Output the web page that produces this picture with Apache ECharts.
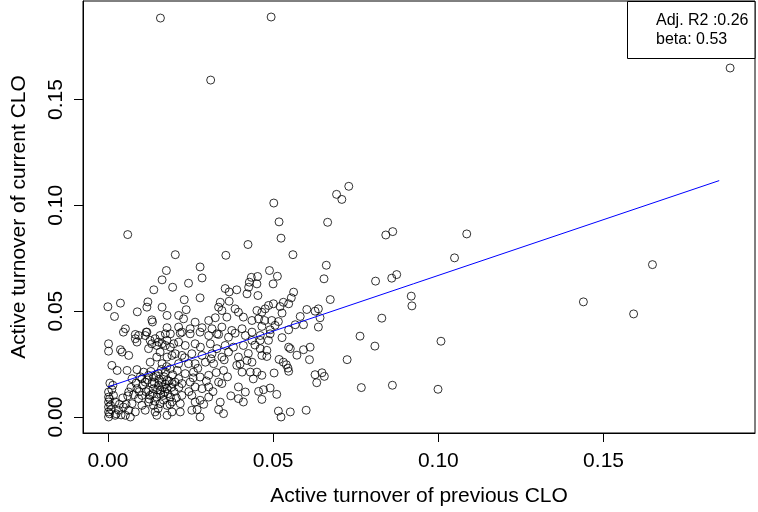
<!DOCTYPE html>
<html>
<head>
<meta charset="utf-8">
<script src="https://cdn.jsdelivr.net/npm/echarts@6/dist/echarts.min.js"></script>
<style>
html,body{margin:0;padding:0;background:#fff;}
#chart{width:758px;height:512px;}
</style>
</head>
<body>
<div id="chart"></div>
<script>
// Active turnover of previous CLO (x) vs current CLO (y)
const prevCLO = [
0.0159,0.0494,0.0311,0.1883,0.1648,0.1439,0.1591,0.0729,0.0692,0.0708,0.0841,0.0862,0.1086,0.1049,0.0810,0.0859,0.0874,0.0918,0.0920,0.0829,0.0763,0.0808,0.1008,0.0724,0.0767,0.0861,0.0999,0.0673,0.0665,0.0060,0.0502,0.0518,0.0524,0.0424,
0.0204,0.0177,0.0164,0.0139,0.0196,0.0000,0.0038,0.0020,0.0089,0.0121,0.0118,0.0164,0.0133,0.0135,0.0179,0.0179,0.0053,0.0083,0.0116,
0.0357,0.0279,0.0285,0.0244,0.0355,0.0367,0.0390,0.0434,0.0428,0.0426,0.0421,0.0231,0.0279,0.0340,0.0367,0.0345,0.0385,0.0335,0.0237,0.0214,0.0229,0.0264,0.0305,0.0325,0.0360,0.0395,0.0410,0.0436,0.0214,0.0249,0.0285,0.0315,0.0345,0.0375,0.0406,0.0436,0.0224,0.0330,
0.0560,0.0661,0.0489,0.0513,0.0453,0.0500,0.0451,0.0654,0.0454,0.0562,0.0555,0.0531,0.0486,0.0501,0.0521,0.0547,0.0476,0.0466,0.0451,0.0602,0.0627,0.0637,0.0527,0.0582,0.0642,0.0456,0.0496,0.0516,0.0474,0.0567,0.0592,0.0637,0.0506,0.0466,0.0547,0.0491,
0.0461,0.0491,0.0527,0.0461,0.0486,0.0547,0.0552,0.0592,0.0612,0.0572,0.0610,0.0461,0.0481,0.0466,0.0481,0.0518,0.0531,0.0540,0.0545,0.0547,0.0627,0.0648,0.0655,0.0632,0.0451,0.0466,0.0503,0.0456,0.0471,0.0491,0.0511,0.0466,0.0516,0.0524,0.0552,0.0600,
0.0219,0.0249,0.0279,0.0305,0.0335,0.0365,0.0385,0.0416,0.0436,0.0214,0.0234,0.0264,0.0280,0.0310,0.0330,0.0355,0.0365,0.0410,0.0204,0.0224,0.0254,0.0285,0.0315,0.0345,0.0395,0.0421,0.0436,0.0214,0.0244,0.0264,0.0295,0.0320,0.0350,0.0390,0.0406,0.0431,0.0234,0.0259,0.0279,0.0305,0.0214,0.0335,0.0345,0.0395,0.0416,0.0224,0.0249,0.0264,0.0285,0.0305,0.0224,0.0254,0.0279,0.0305,0.0395,0.0410,0.0219,0.0264,0.0219,0.0254,0.0270,0.0335,0.0350,0.0279,
0.0002,0.0002,0.0043,0.0038,0.0063,0.0093,0.0083,0.0088,0.0118,0.0133,0.0153,0.0174,0.0189,0.0123,0.0158,0.0148,0.0179,0.0194,0.0128,0.0164,0.0012,0.0028,0.0058,0.0088,0.0108,0.0073,0.0103,0.0123,0.0138,0.0153,0.0174,0.0189,0.0113,0.0133,0.0153,0.0164,0.0179,0.0194,0.0138,0.0158,0.0179,0.0123,0.0088,0.0063,0.0103,0.0128,0.0148,0.0168,0.0189,0.0002,0.0002,0.0002,0.0002,0.0002,0.0002,0.0017,0.0022,0.0032,0.0022,0.0047,0.0063,0.0073,0.0083,0.0093,0.0103,0.0113,0.0123,0.0138,0.0158,0.0179,0.0194,0.0143,0.0148,0.0179,0.0194,0.0068,0.0053,0.0113,0.0128,0.0148,0.0164,0.0179,0.0199,0.0143,0.0158,0.0174,0.0189,0.0047,
0.0105,0.0115,0.0120,0.0125,0.0130,0.0135,0.0140,0.0142,0.0145,0.0150,0.0152,0.0155,0.0160,0.0162,0.0165,0.0168,0.0170,0.0172,0.0175,0.0178,0.0182,0.0185,0.0188,0.0192,0.0196,0.0200,0.0203,0.0207,0.0210,0.0215,
0.0005,0.0008,0.0005,0.0010,0.0012,0.0015,0.0006,0.0025,0.0035,0.0040,0.0045,0.0055,0.0060,0.0070,0.0078,0.0085,0.0095,0.0098,
0.0232,0.0245,0.0258,0.0272,0.0290,0.0298,0.0312,0.0318,0.0328,0.0340,0.0352,0.0362,0.0372,0.0380,0.0400,0.0425,0.0440,0.0445
];
const currCLO = [
0.1885,0.1890,0.1592,0.1649,0.0720,0.0544,0.0487,0.1090,0.1052,0.1028,0.0860,0.0876,0.0865,0.0752,0.0642,0.0656,0.0673,0.0571,0.0525,0.0467,0.0382,0.0335,0.0358,0.0271,0.0139,0.0150,0.0131,0.0555,0.0920,0.0862,0.1011,0.0922,0.0845,0.0815,
0.0767,0.0692,0.0648,0.0601,0.0613,0.0521,0.0538,0.0475,0.0497,0.0544,0.0519,0.0519,0.0459,0.0449,0.0480,0.0422,0.0417,0.0390,0.0401,
0.0764,0.0709,0.0657,0.0632,0.0607,0.0591,0.0601,0.0660,0.0637,0.0613,0.0582,0.0554,0.0563,0.0542,0.0547,0.0503,0.0511,0.0519,0.0507,0.0480,0.0464,0.0448,0.0456,0.0469,0.0472,0.0495,0.0472,0.0456,0.0425,0.0417,0.0422,0.0417,0.0425,0.0409,0.0417,0.0401,0.0401,0.0393,
0.0767,0.0717,0.0692,0.0665,0.0664,0.0629,0.0629,0.0653,0.0574,0.0590,0.0563,0.0542,0.0527,0.0535,0.0522,0.0535,0.0511,0.0495,0.0503,0.0508,0.0500,0.0511,0.0491,0.0475,0.0469,0.0464,0.0456,0.0451,0.0456,0.0436,0.0436,0.0425,0.0433,0.0428,0.0412,0.0412,
0.0385,0.0393,0.0375,0.0362,0.0362,0.0330,0.0323,0.0318,0.0330,0.0292,0.0271,0.0323,0.0315,0.0291,0.0286,0.0272,0.0259,0.0247,0.0231,0.0216,0.0200,0.0209,0.0192,0.0162,0.0212,0.0197,0.0208,0.0121,0.0129,0.0137,0.0107,0.0083,0.0028,0.0000,0.0024,0.0032,
0.0396,0.0393,0.0401,0.0385,0.0390,0.0377,0.0396,0.0385,0.0362,0.0354,0.0338,0.0346,0.0330,0.0346,0.0323,0.0338,0.0307,0.0338,0.0299,0.0291,0.0299,0.0291,0.0299,0.0283,0.0283,0.0267,0.0259,0.0252,0.0252,0.0252,0.0259,0.0252,0.0220,0.0244,0.0212,0.0212,0.0205,0.0212,0.0189,0.0197,0.0181,0.0165,0.0158,0.0142,0.0118,0.0158,0.0165,0.0142,0.0134,0.0142,0.0102,0.0102,0.0079,0.0094,0.0087,0.0071,0.0063,0.0071,0.0024,0.0032,0.0035,0.0035,0.0016,0.0000,
0.0346,0.0311,0.0307,0.0318,0.0291,0.0385,0.0370,0.0354,0.0401,0.0346,0.0354,0.0338,0.0330,0.0323,0.0307,0.0283,0.0283,0.0291,0.0259,0.0252,0.0244,0.0220,0.0220,0.0224,0.0212,0.0181,0.0181,0.0197,0.0189,0.0205,0.0212,0.0228,0.0165,0.0158,0.0150,0.0165,0.0173,0.0158,0.0134,0.0126,0.0134,0.0126,0.0134,0.0118,0.0102,0.0102,0.0094,0.0102,0.0094,0.0118,0.0094,0.0071,0.0047,0.0024,0.0000,0.0102,0.0071,0.0032,0.0008,0.0047,0.0032,0.0063,0.0024,0.0087,0.0055,0.0032,0.0071,0.0055,0.0063,0.0055,0.0071,0.0024,0.0008,0.0008,0.0024,0.0000,0.0008,0.0385,0.0362,0.0338,0.0346,0.0362,0.0346,0.0370,0.0385,0.0393,0.0393,0.0401,
0.0150,0.0120,0.0175,0.0085,0.0215,0.0110,0.0165,0.0075,0.0195,0.0128,0.0040,0.0178,0.0108,0.0225,0.0140,0.0080,0.0190,0.0118,0.0155,0.0238,0.0110,0.0170,0.0060,0.0140,0.0200,0.0120,0.0165,0.0090,0.0220,0.0140,
0.0015,0.0055,0.0085,0.0035,0.0130,0.0150,0.0160,0.0015,0.0060,0.0010,0.0090,0.0060,0.0100,0.0140,0.0105,0.0160,0.0120,0.0190,
0.0280,0.0120,0.0185,0.0230,0.0060,0.0170,0.0275,0.0120,0.0210,0.0070,0.0270,0.0190,0.0100,0.0330,0.0250,0.0300,0.0180,0.0340
];
// Fitted regression line end points
const fitX = [0.0, 0.185];
const fitY = [0.0142, 0.1117];
const tickValues = [0, 0.05, 0.10, 0.15];
const legendLines = ['Adj. R2 :0.26', 'beta: 0.53'];
const xTitle = 'Active turnover of previous CLO';
const yTitle = 'Active turnover of current CLO';

const points = prevCLO.map((x, i) => [x, currCLO[i]]);
const fitLine = fitX.map((x, i) => [x, fitY[i]]);

function pad(arr) {
  const mn = Math.min(...arr), mx = Math.max(...arr), r = mx - mn;
  return [mn - 0.04 * r, mx + 0.04 * r];
}
const xl = pad(prevCLO), yl = pad(currCLO);
const FONT = "'Liberation Sans', Arial, sans-serif";

const chart = echarts.init(document.getElementById('chart'), null, {renderer: 'canvas'});
chart.setOption({
  animation: false,
  backgroundColor: '#fff',
  grid: {left: 83, right: 3, top: 1, bottom: 79, show: true, borderColor: '#000', borderWidth: 1, backgroundColor: 'transparent'},
  xAxis: {
    type: 'value', min: xl[0], max: xl[1],
    splitLine: {show: false},
    axisLine: {show: true, onZero: false, lineStyle: {color: '#000', width: 1}},
    axisTick: {show: true, length: 9, customValues: tickValues, lineStyle: {color: '#000'}},
    axisLabel: {customValues: tickValues, formatter: v => v.toFixed(2), margin: 18, fontSize: 21, color: '#000', fontFamily: FONT},
    name: xTitle, nameLocation: 'middle', nameGap: 53,
    nameTextStyle: {fontSize: 21, color: '#000', fontFamily: FONT}
  },
  yAxis: {
    type: 'value', min: yl[0], max: yl[1],
    splitLine: {show: false},
    axisLine: {show: true, onZero: false, lineStyle: {color: '#000', width: 1}},
    axisTick: {show: true, length: 9, customValues: tickValues, lineStyle: {color: '#000'}},
    axisLabel: {customValues: tickValues, formatter: v => v.toFixed(2), rotate: 90, margin: 16, fontSize: 21, color: '#000', fontFamily: FONT},
    name: yTitle, nameLocation: 'middle', nameGap: 53, nameRotate: 90,
    nameTextStyle: {fontSize: 21, color: '#000', fontFamily: FONT}
  },
  series: [
    {
      type: 'scatter', data: points, symbol: 'circle', symbolSize: 8,
      itemStyle: {color: 'rgba(0,0,0,0)', borderColor: '#000', borderWidth: 1},
      emphasis: {disabled: true}
    },
    {
      type: 'line', data: fitLine, showSymbol: false, symbol: 'none',
      lineStyle: {color: '#0000ff', width: 1}, z: 3
    }
  ],
  graphic: [
    {type: 'rect', shape: {x: 627.5, y: 1.5, width: 127.5, height: 57}, style: {fill: '#fff', stroke: '#000', lineWidth: 1}, z: 10},
    {type: 'text', x: 656, y: 21, style: {text: legendLines[0], font: "16px 'Liberation Sans', Arial, sans-serif", fill: '#000', verticalAlign: 'middle'}, z: 11},
    {type: 'text', x: 656, y: 40, style: {text: legendLines[1], font: "16px 'Liberation Sans', Arial, sans-serif", fill: '#000', verticalAlign: 'middle'}, z: 11}
  ]
});
</script>
</body>
</html>
